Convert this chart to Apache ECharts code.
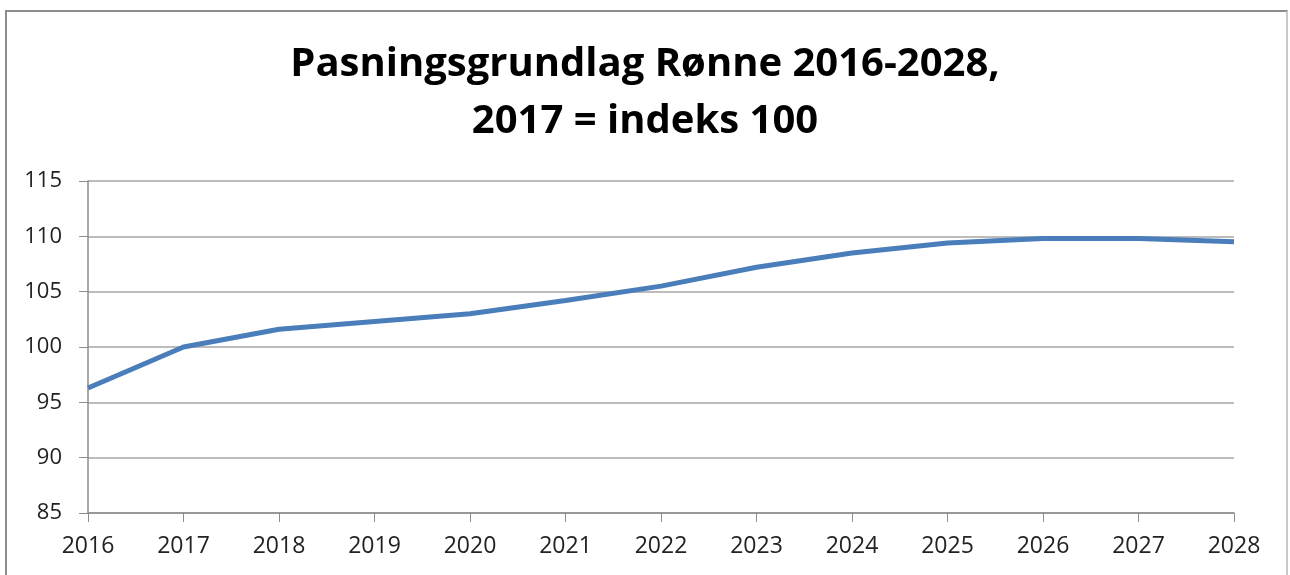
<!DOCTYPE html>
<html>
<head>
<meta charset="utf-8">
<script src="https://cdn.jsdelivr.net/npm/echarts@6/dist/echarts.min.js"></script>
<style>
  html, body { margin: 0; padding: 0; background: #fff; }
  #frame { position: absolute; left: 5px; top: 10px; width: 1283px; height: 600px; border: 2px solid #8c8c8c; border-right-color: #c8c8c8; box-sizing: border-box; }
  #chart { width: 1290px; height: 575px; }
</style>
</head>
<body>
<div id="frame"></div>
<div id="chart"></div>
<script>
var years = ['2016', '2017', '2018', '2019', '2020', '2021', '2022', '2023', '2024', '2025', '2026', '2027', '2028'];
var index = [96.3, 100.0, 101.6, 102.3, 103.0, 104.2, 105.5, 107.2, 108.5, 109.4, 109.8, 109.8, 109.5];
var titleText = 'Pasningsgrundlag Rønne 2016-2028,\n2017 = indeks 100';

var chart = echarts.init(document.getElementById('chart'));
chart.setOption({
    animation: false,
    title: {
        text: titleText,
        left: 'center',
        top: 31,
        textStyle: {
            fontFamily: 'Open Sans, sans-serif',
            fontWeight: 'bold',
            fontSize: 40,
            lineHeight: 57,
            color: '#000'
        }
    },
    grid: { left: 88, right: 56, top: 181, bottom: 62 },
    xAxis: {
        type: 'category',
        data: years,
        boundaryGap: false,
        axisLine: { lineStyle: { color: '#8c8c8c', width: 1.5 } },
        axisTick: { show: true, length: 9, lineStyle: { color: '#8c8c8c' } },
        axisLabel: { color: '#222', fontSize: 23, margin: 22, fontFamily: 'Open Sans, sans-serif' },
        splitLine: { show: false }
    },
    yAxis: {
        type: 'value',
        min: 85,
        max: 115,
        interval: 5,
        axisLine: { show: true, lineStyle: { color: '#8c8c8c', width: 1.5 } },
        axisTick: { show: true, length: 9, lineStyle: { color: '#8c8c8c' } },
        axisLabel: { color: '#222', fontSize: 22, margin: 26, fontFamily: 'Open Sans, sans-serif' },
        splitLine: { lineStyle: { color: '#a6a6a6', width: 1.5 } }
    },
    series: [{
        type: 'line',
        data: index,
        symbol: 'none',
        lineStyle: { color: '#4a7ebb', width: 5 }
    }]
});
</script>
</body>
</html>
